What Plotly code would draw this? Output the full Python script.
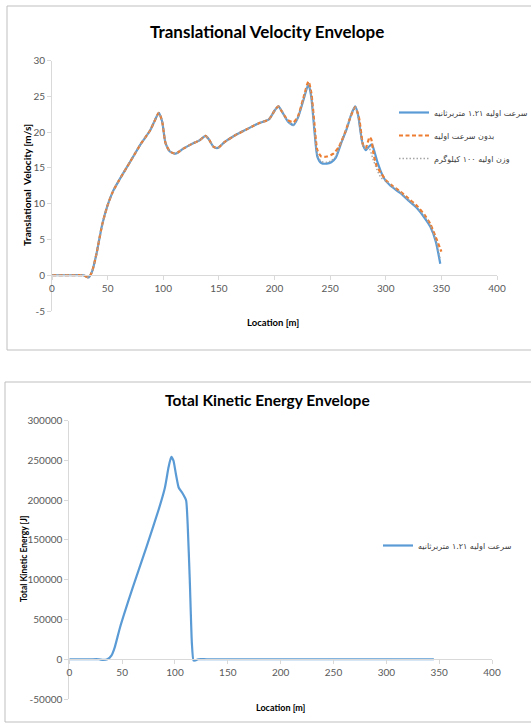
import plotly.graph_objects as go

W, H = 531, 723

# ---- Translational velocity envelopes: location [m] -> velocity [m/s] ----
loc_v121 = [0, 10, 20, 28, 33, 36, 40, 45, 50, 55, 60, 70, 80, 88, 92, 96, 99, 102, 106, 111,
            118, 125, 133, 138, 141, 145, 149, 155, 165, 175, 185, 195, 200, 203.5, 207, 212,
            217, 221, 226, 230.5, 233, 236, 238.5, 242, 247, 251, 255, 260, 265, 269, 272.5,
            275, 279, 282, 285, 287.5, 290, 293, 297, 300, 306, 313, 320, 328, 335, 340, 345, 349]
vel_v121 = [0, 0, 0, 0, -0.3, 0.5, 3, 7, 9.8, 11.8, 13.2, 15.8, 18.4, 20.2, 21.5, 22.7, 21.5, 18.5, 17.3, 17.0,
            17.7, 18.3, 18.9, 19.5, 19.0, 18.0, 17.8, 18.6, 19.6, 20.4, 21.2, 21.8, 23.0, 23.6, 22.8, 21.5,
            21.0, 22.0, 24.5, 26.7, 25.0, 20.0, 16.6, 15.7, 15.6, 15.8, 16.4, 18.5, 20.5, 22.5, 23.6,
            22.5, 18.5, 17.5, 18.0, 18.3, 17.2, 15.6, 14.0, 13.2, 12.3, 11.5, 10.5, 9.4, 8.0, 6.8, 4.7, 1.6]

loc_v0 = [0, 10, 20, 28, 33, 36, 40, 45, 50, 55, 60, 70, 80, 88, 92, 96, 99, 102, 106, 111,
          118, 125, 133, 138, 141, 145, 149, 155, 165, 175, 185, 195, 200, 203.5, 207, 212,
          217, 221, 226, 230.5, 233, 236, 238.5, 242, 247, 253, 258, 263, 268, 272.5,
          276, 280, 282, 285.5, 287, 289, 292, 297, 300, 306, 313, 320, 328, 335, 340, 345, 350]
vel_v0 = [0, 0, 0, 0, -0.3, 0.5, 3, 7, 9.8, 11.8, 13.2, 15.8, 18.4, 20.2, 21.5, 22.7, 21.5, 18.5, 17.3, 17.0,
          17.7, 18.3, 18.9, 19.5, 19.0, 18.0, 17.8, 18.6, 19.6, 20.4, 21.2, 21.8, 23.0, 23.6, 22.8, 21.7,
          21.4, 22.2, 24.8, 27.1, 25.6, 21.0, 17.5, 16.6, 16.6, 17.0, 18.0, 19.8, 22.0, 23.5,
          22.0, 18.0, 17.8, 19.3, 19.0, 17.0, 15.2, 14.0, 13.3, 12.5, 11.7, 10.8, 9.7, 8.4, 7.2, 5.3, 3.3]

loc_w100 = [0, 10, 20, 28, 33, 36, 40, 45, 50, 55, 60, 70, 80, 88, 92, 96, 99, 102, 106, 111,
            118, 125, 133, 138, 141, 145, 149, 155, 165, 175, 185, 195, 200, 203.5, 207, 212,
            217, 221, 226, 230.5, 233, 236, 238.5, 242, 247, 251, 255, 260, 265, 269, 272.5,
            275, 279, 282, 285, 288, 292, 296, 300, 306, 313, 320, 328, 335, 340, 345, 349]
vel_w100 = [0, 0, 0, 0, -0.3, 0.5, 3, 7, 9.8, 11.8, 13.2, 15.8, 18.4, 20.2, 21.5, 22.7, 21.5, 18.5, 17.3, 17.0,
            17.7, 18.3, 18.9, 19.5, 19.0, 18.0, 17.8, 18.6, 19.6, 20.4, 21.2, 21.8, 23.0, 23.6, 22.8, 21.5,
            21.0, 22.0, 24.5, 26.8, 25.0, 20.0, 16.8, 15.9, 15.8, 16.0, 16.6, 18.6, 20.6, 22.6, 23.6,
            22.4, 18.4, 17.6, 17.8, 16.5, 14.8, 13.6, 13.2, 12.4, 11.6, 10.6, 9.5, 8.2, 7.0, 4.9, 2.2]

# ---- Total kinetic energy envelope: location [m] -> energy [J] ----
loc_ke = [0, 10, 20, 28, 32, 36, 40, 43, 48, 60, 73, 85, 90.5, 94, 96.5, 98.5, 101, 103.5,
          107, 110.5, 112, 114, 116, 117.5, 119, 122, 130, 200, 300, 345]
ke_v121 = [0, 0, 0, 0, -800, 0, 5000, 15000, 40000, 90000, 141000, 190000, 216000, 242000,
           254500, 250000, 232000, 216000, 209000, 200000, 170000, 100000, 20000, -1500, -1500,
           0, 0, 0, 0, 0]

# Legend labels
name_v121 = "سرعت اولیه ۱.۲۱ متربرثانیه"
name_v0 = "بدون سرعت اولیه"
name_w100 = "وزن اولیه ۱۰۰ کیلوگرم"

# Axis ticks
loc_ticks = [0, 50, 100, 150, 200, 250, 300, 350, 400]
vel_ticks = [-5, 0, 5, 10, 15, 20, 25, 30]
vel_tick_text = ["-5", "0", "5", "10", "15", "20", "25", "30"]
ke_ticks = [-50000, 0, 50000, 100000, 150000, 200000, 250000, 300000]
ke_tick_text = ["-50000", "0", "50000", "100000", "150000", "200000", "250000", "300000"]

BLUE = "#5b9bd5"
ORANGE = "#ed7d31"
GRAY = "#a5a5a5"
AXIS = "#d9d9d9"
TICKTXT = "#595959"
BODY_FONT = "Lato"


def fx(px):
    return px / W


def fy(py):
    return 1 - py / H


fig = go.Figure()

fig.add_trace(go.Scatter(x=loc_v121, y=vel_v121, name=name_v121, mode="lines",
                         line=dict(color=BLUE, width=2.2, shape="spline", smoothing=0.6),
                         xaxis="x", yaxis="y", legend="legend", legendgroup="a"))
fig.add_trace(go.Scatter(x=loc_v0, y=vel_v0, name=name_v0, mode="lines",
                         line=dict(color=ORANGE, width=2.2, dash="4px,2.5px", shape="spline", smoothing=0.6),
                         xaxis="x", yaxis="y", legend="legend", legendgroup="b"))
fig.add_trace(go.Scatter(x=loc_w100, y=vel_w100, name=name_w100, mode="lines",
                         line=dict(color=GRAY, width=1.5, dash="1.5px,2px", shape="spline", smoothing=0.6),
                         xaxis="x", yaxis="y", legend="legend", legendgroup="c"))
fig.add_trace(go.Scatter(x=loc_ke, y=ke_v121, name=name_v121, mode="lines",
                         line=dict(color=BLUE, width=2.2, shape="spline", smoothing=0.5),
                         xaxis="x2", yaxis="y2", legend="legend2"))

axis_common = dict(showgrid=False, zeroline=False, showline=True, linecolor=AXIS, linewidth=1,
                   ticks="outside", ticklen=4, tickcolor=AXIS,
                   tickfont=dict(family=BODY_FONT, size=10, color=TICKTXT))

fig.update_layout(
    width=W, height=H,
    margin=dict(l=0, r=0, t=0, b=0, autoexpand=False),
    paper_bgcolor="white", plot_bgcolor="white",
    xaxis=dict(domain=[fx(52), fx(497)], range=[0, 400], tickvals=loc_ticks,
               anchor="free", position=fy(275), **axis_common),
    yaxis=dict(domain=[fy(311), fy(60.7)], range=[-5, 30], tickvals=vel_ticks,
               ticktext=vel_tick_text, anchor="x", **axis_common),
    xaxis2=dict(domain=[fx(69.3), fx(492)], range=[0, 400], tickvals=loc_ticks,
                anchor="free", position=fy(659.3), **axis_common),
    yaxis2=dict(domain=[fy(699), fy(420.7)], range=[-50000, 300000], tickvals=ke_ticks,
                ticktext=ke_tick_text, anchor="x2", **axis_common),
    legend=dict(x=fx(394), y=fy(98), xanchor="left", yanchor="top",
                font=dict(family="DejaVu Sans", size=8, color="#404040"),
                bgcolor="rgba(0,0,0,0)", tracegroupgap=4, itemwidth=30),
    legend2=dict(x=fx(378), y=fy(531), xanchor="left", yanchor="top",
                 font=dict(family="DejaVu Sans", size=8, color="#404040"),
                 bgcolor="rgba(0,0,0,0)", itemwidth=30),
    showlegend=True,
)

# Chart frames
fig.add_shape(type="rect", xref="paper", yref="paper", x0=fx(7), x1=fx(540), y0=fy(350), y1=fy(6),
              line=dict(color="#bfbfbf", width=1), fillcolor="rgba(0,0,0,0)", layer="below")
fig.add_shape(type="rect", xref="paper", yref="paper", x0=fx(5), x1=fx(540), y0=fy(722), y1=fy(382),
              line=dict(color="#bfbfbf", width=1), fillcolor="rgba(0,0,0,0)", layer="below")

# Titles and axis titles
texts = [
    ("Translational Velocity Envelope", 267, 32, 0, 17),
    ("Total Kinetic Energy Envelope", 267, 400, 0, 15.5),
    ("Translational  Velocity [m/s]", 27, 185, -90, 10),
    ("Location [m]", 273, 322, 0, 9.5),
    ("Total Kinetic Energy [J]", 24, 559, -90, 8.5),
    ("Location [m]", 281, 707, 0, 9),
]
for txt, px, py, ang, size in texts:
    fig.add_annotation(text="<b>%s</b>" % txt, xref="paper", yref="paper", x=fx(px), y=fy(py),
                       xanchor="center", yanchor="middle", showarrow=False, textangle=ang,
                       font=dict(family=BODY_FONT, size=size, color="#000000"))

fig.write_html("out.html")
